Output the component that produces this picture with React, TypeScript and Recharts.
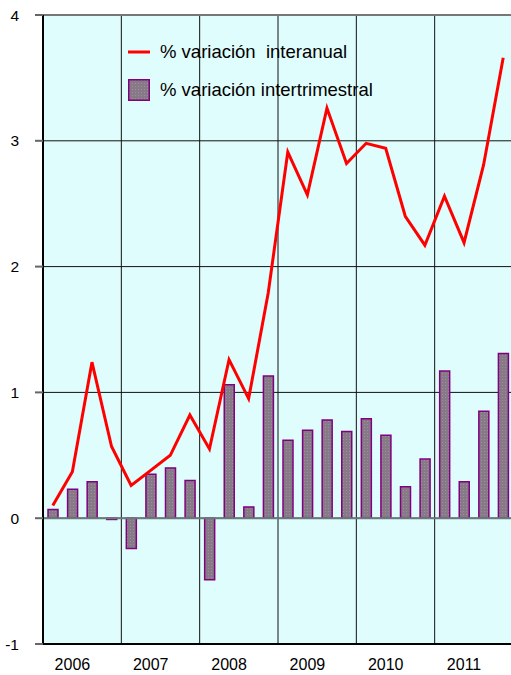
import React from 'react'
import {
  ComposedChart,
  Bar,
  Line,
  XAxis,
  YAxis,
  CartesianGrid,
  ReferenceLine,
} from 'recharts'

const years = ['2006', '2007', '2008', '2009', '2010', '2011']
const quarters = ['I', 'II', 'III', 'IV']

const interanual = [
  0.1, 0.37, 1.24, 0.57,
  0.26, 0.38, 0.5, 0.82,
  0.55, 1.26, 0.95, 1.79,
  2.91, 2.57, 3.26, 2.82,
  2.98, 2.94, 2.4, 2.17,
  2.56, 2.19, 2.81, 3.66,
]

const intertrimestral = [
  0.07, 0.23, 0.29, -0.01,
  -0.24, 0.35, 0.4, 0.3,
  -0.49, 1.06, 0.09, 1.13,
  0.62, 0.7, 0.78, 0.69,
  0.79, 0.66, 0.25, 0.47,
  1.17, 0.29, 0.85, 1.31,
]

const yTicks = [-1, 0, 1, 2, 3, 4]

const data = interanual.map((v, i) => ({
  q: `${years[Math.floor(i / 4)]}-${quarters[i % 4]}`,
  interanual: v,
  intertrimestral: intertrimestral[i],
}))

const FONT = '"Liberation Sans", Arial, sans-serif'
const MARGIN = { top: 15, right: 7, bottom: 0, left: 0 }

// the year label is written under the 2nd quarter of each year
const YearTick = (props: any) => {
  const { x, y, payload, index } = props
  if (index % 4 !== 1) return null
  return (
    <text x={x} y={y + 18} textAnchor="middle" fontSize={16} fontFamily={FONT} fill="#000">
      {payload.value.split('-')[0]}
    </text>
  )
}

// drawn over the plot, so it takes no room from the chart
const LegendBox = () => (
  <div
    style={{
      position: 'absolute',
      left: 128,
      top: 33,
      fontFamily: FONT,
      fontSize: 18.5,
      color: '#000',
      whiteSpace: 'nowrap',
    }}
  >
    <div style={{ display: 'flex', alignItems: 'center', height: 38 }}>
      <svg width={32} height={10}>
        <line x1={0} y1={5} x2={22} y2={5} stroke="#ff0000" strokeWidth={3} />
      </svg>
      <span>% variación&nbsp; interanual</span>
    </div>
    <div style={{ display: 'flex', alignItems: 'center', height: 38 }}>
      <svg width={32} height={22}>
        <rect x={0.75} y={0.75} width={20.5} height={20.5} fill="url(#dots)" stroke="#800080" strokeWidth={1.5} />
      </svg>
      <span>% variación intertrimestral</span>
    </div>
  </div>
)

export default function App() {
  return (
    <div
      style={{
        position: 'absolute',
        left: 0,
        top: 0,
        width: 511,
        height: 675,
        overflow: 'hidden',
        background: '#fff',
      }}
    >
      <ComposedChart width={520} height={675} data={data} margin={MARGIN}>
        <defs>
          <pattern id="dots" width={3} height={3} patternUnits="userSpaceOnUse">
            <rect width={3} height={3} fill="#867a86" />
            <rect x={1} y={1} width={1} height={1} fill="#a58aa5" />
          </pattern>
        </defs>
        <CartesianGrid
          fill="#e0fdfd"
          stroke="#111"
          strokeWidth={1}
          verticalCoordinatesGenerator={({ offset }: any) =>
            years.slice(1).map((_, i) => offset.left + ((i + 1) * offset.width) / years.length)
          }
        />
        <XAxis
          dataKey="q"
          height={31}
          interval={0}
          tick={YearTick}
          tickLine={false}
          axisLine={{ stroke: '#000', strokeWidth: 2 }}
        />
        <YAxis
          width={43}
          domain={[-1, 4]}
          ticks={yTicks}
          interval={0}
          tickSize={8}
          tickMargin={16}
          tickLine={{ stroke: '#666', strokeWidth: 2 }}
          axisLine={{ stroke: '#000', strokeWidth: 2 }}
          tick={{ fontSize: 15.5, fontFamily: FONT, fill: '#000' }}
        />
        <ReferenceLine y={4} stroke="#777" strokeWidth={2} />
        <ReferenceLine y={0} stroke="#6a7a7a" strokeWidth={2} />
        <Bar
          dataKey="intertrimestral"
          barSize={10}
          fill="url(#dots)"
          stroke="#800080"
          strokeWidth={1.5}
          isAnimationActive={false}
        />
        <Line
          dataKey="interanual"
          stroke="#ff0000"
          strokeWidth={3}
          dot={false}
          activeDot={false}
          type="linear"
          isAnimationActive={false}
        />
      </ComposedChart>
      <LegendBox />
    </div>
  )
}
